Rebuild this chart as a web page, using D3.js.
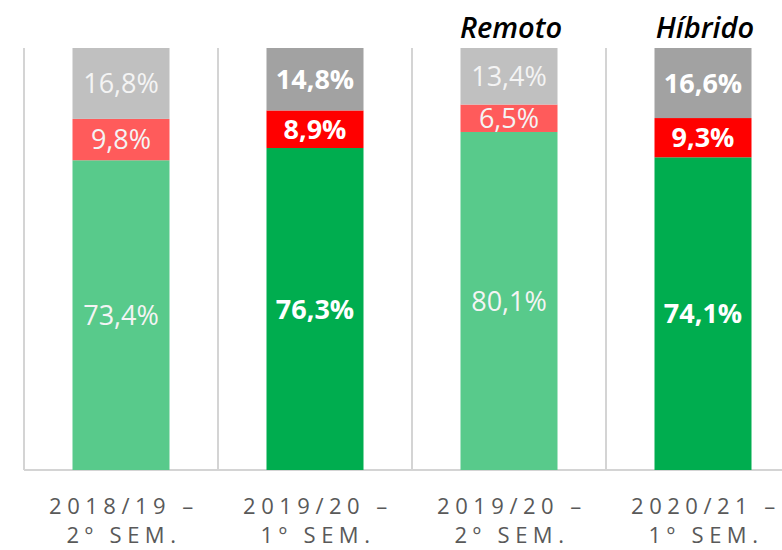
<!DOCTYPE html>
<html>
<head>
<meta charset="utf-8">
<title>Stacked bars</title>
<script src="https://cdn.jsdelivr.net/npm/d3@7"></script>
<style>
  body { margin: 0; background: #fff; }
  #chart { display: block; }
  .lbl { font-family: "Open Sans", sans-serif; font-size: 27px; }
  .cat { font-family: "Open Sans", sans-serif; font-size: 22px; fill: #595959; letter-spacing: 5.5px; }
  .ttl { font-family: "Open Sans", sans-serif; font-size: 29px; font-style: italic; font-weight: 600; fill: #000; }
</style>
</head>
<body>
<svg id="chart"></svg>
<script>
var categories = ['2018/19 – 2º SEM.', '2019/20 – 1º SEM.', '2019/20 – 2º SEM.', '2020/21 – 1º SEM.'];
var catLine1 = ['2018/19 –', '2019/20 –', '2019/20 –', '2020/21 –'];
var catLine2 = ['2º SEM.', '1º SEM.', '2º SEM.', '1º SEM.'];
var greenVals = [73.4, 76.3, 80.1, 74.1];
var redVals = [9.8, 8.9, 6.5, 9.3];
var greyVals = [16.8, 14.8, 13.4, 16.6];
var titles = ['', '', 'Remoto', 'Híbrido'];
var highlight = [false, true, false, true];  // bold / saturated bars

var width = 782, height = 550;
var svg = d3.select('#chart').attr('width', width).attr('height', height);

var x = d3.scaleBand()
  .domain(categories)
  .range([24, 24 + 4 * 194])
  .paddingInner(0);

var y = d3.scaleLinear()
  .domain([0, 100])
  .range([470, 48]);

var colors = {
  green: ['#58ca8b', '#00ad4f'],
  red: ['#ff5b5b', '#ff0000'],
  grey: ['#c0c0c0', '#a2a2a2']
};

// separators between the categories
svg.selectAll('line.sep')
  .data(categories)
  .enter()
  .append('line')
  .attr('class', 'sep')
  .attr('x1', d => x(d))
  .attr('x2', d => x(d))
  .attr('y1', y(100))
  .attr('y2', y(0))
  .style('stroke', '#d4d4d4')
  .style('stroke-width', 2);

svg.append('line')
  .attr('x1', x.range()[0])
  .attr('x2', width)
  .attr('y1', y(0))
  .attr('y2', y(0))
  .style('stroke', '#d4d4d4')
  .style('stroke-width', 2);

// build stacked rows
var rows = categories.map((c, i) => ({ cat: c, green: greenVals[i], red: redVals[i], grey: greyVals[i], i: i }));
var stack = d3.stack().keys(['green', 'red', 'grey'])(rows);

var barW = x.bandwidth() / 2;

var layers = svg.selectAll('g.layer')
  .data(stack)
  .enter()
  .append('g')
  .attr('class', 'layer');

layers.selectAll('rect')
  .data(d => d.map(p => ({ key: d.key, p: p })))
  .enter()
  .append('rect')
  .attr('x', d => x(d.p.data.cat) + barW / 2)
  .attr('y', d => y(d.p[1]))
  .attr('width', barW)
  .attr('height', d => y(d.p[0]) - y(d.p[1]))
  .style('fill', d => colors[d.key][highlight[d.p.data.i] ? 1 : 0]);

layers.selectAll('text')
  .data(d => d.map(p => ({ key: d.key, p: p })))
  .enter()
  .append('text')
  .attr('class', 'lbl')
  .attr('x', d => x(d.p.data.cat) + x.bandwidth() / 2)
  .attr('y', d => (y(d.p[0]) + y(d.p[1])) / 2)
  .attr('dy', '0.36em')
  .attr('text-anchor', 'middle')
  .style('font-weight', d => highlight[d.p.data.i] ? 700 : 400)
  .style('fill', d => highlight[d.p.data.i] ? '#ffffff' : '#f4f4f4')
  .text(d => d3.format('.1f')(d.p[1] - d.p[0]).replace('.', ',') + '%');

// category labels (two lines, letter-spaced), one text per line
[catLine1, catLine2].forEach(function (lines, k) {
  svg.selectAll('text.cat' + k)
    .data(categories)
    .enter()
    .append('text')
    .attr('class', 'cat cat' + k)
    .attr('text-anchor', 'middle')
    .attr('x', d => x(d) + x.bandwidth() / 2 + 3)
    .attr('y', k === 0 ? 514 : 543)
    .text((d, i) => lines[i]);
});

// titles above bars
svg.selectAll('text.ttl')
  .data(categories)
  .enter()
  .append('text')
  .attr('class', 'ttl')
  .attr('text-anchor', 'middle')
  .attr('x', d => x(d) + x.bandwidth() / 2 + 2)
  .attr('y', 38)
  .text((d, i) => titles[i]);
</script>
</body>
</html>
